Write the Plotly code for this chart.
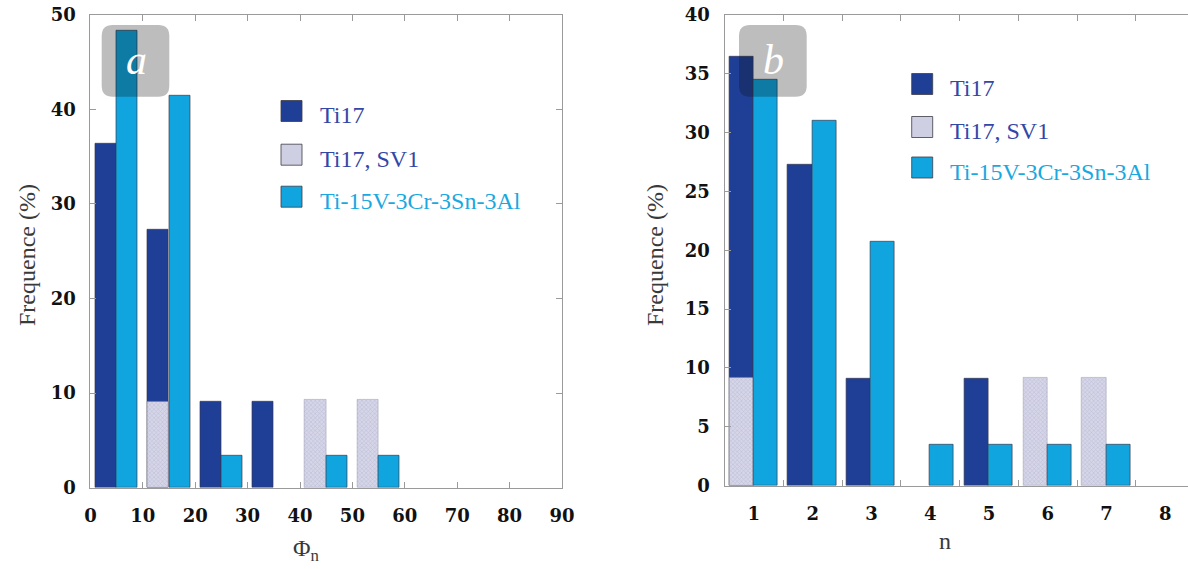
import plotly.graph_objects as go

W, H = 1188, 569

# ---------------- data ----------------
series_names = ["Ti17", "Ti17, SV1", "Ti-15V-3Cr-3Sn-3Al"]

phi_bins = [5, 15, 25, 35, 45, 55, 65, 75, 85]          # bin centres (Phi_n, width 10)
phi_ti17 = [36.4, 27.3, 9.1, 9.1, None, None, None, None, None]
phi_sv1 = [None, 9.1, None, None, 9.3, 9.3, None, None, None]
phi_ti15 = [48.3, 41.4, 3.4, None, 3.4, 3.4, None, None, None]

n_vals = [1, 2, 3, 4, 5, 6, 7, 8]
n_ti17 = [36.4, 27.3, 9.1, None, 9.1, None, None, None]
n_sv1 = [9.2, None, None, None, None, 9.2, 9.2, None]
n_ti15 = [34.5, 31.0, 20.7, 3.45, 3.45, 3.45, 3.45, None]

phi_ticks = [0, 10, 20, 30, 40, 50, 60, 70, 80, 90]
freq_ticks_a = [0, 10, 20, 30, 40, 50]
freq_ticks_b = [0, 5, 10, 15, 20, 25, 30, 35, 40]
n_boundaries = [1.5, 2.5, 3.5, 4.5, 5.5, 6.5, 7.5]

# ---------------- styles ----------------
C_TI17 = "#1f3f97"
C_TI15 = "#10a5de"
C_SV1_BG = "#d6d6e8"
C_SV1_FG = "#a4a4c6"
C_TXT_DARK = "#3347a6"
C_TXT_CYAN = "#19a8e0"
AX = "#9a9a9a"
OUTLINE = dict(color="rgba(55,55,75,0.85)", width=0.8)
TICKFONT = dict(family="DejaVu Serif", size=18, color="#111111", weight="bold")
SERIF = "Liberation Serif"


def px(x):
    return x / W


def py(y):
    return 1 - y / H


fig = go.Figure()


def add_panel(xa, ya, xs, ti17, sv1, ti15, off1, off2, w):
    fig.add_trace(go.Bar(x=xs, y=ti17, name=series_names[0], marker=dict(color=C_TI17, line=OUTLINE),
                         offset=off1, width=w, xaxis=xa, yaxis=ya, showlegend=False))
    fig.add_trace(go.Bar(x=xs, y=sv1, name=series_names[1],
                         marker=dict(color=C_SV1_BG, line=dict(color="rgba(120,120,150,0.6)", width=0.6),
                                     pattern=dict(shape="x", size=3, solidity=0.35,
                                                  fgcolor=C_SV1_FG, bgcolor=C_SV1_BG)),
                         offset=off1, width=w, xaxis=xa, yaxis=ya, showlegend=False))
    fig.add_trace(go.Bar(x=xs, y=ti15, name=series_names[2], marker=dict(color=C_TI15, line=OUTLINE),
                         offset=off2, width=w, xaxis=xa, yaxis=ya, showlegend=False))


add_panel("x", "y", phi_bins, phi_ti17, phi_sv1, phi_ti15, -4.1, 0.0, 4.05)
add_panel("x2", "y2", n_vals, n_ti17, n_sv1, n_ti15, -0.42, -0.01, 0.41)

axis_common = dict(showline=True, linecolor=AX, linewidth=1, showgrid=False, zeroline=False,
                   ticks="inside", ticklen=6, tickcolor=AX, tickwidth=1, tickfont=TICKFONT,
                   automargin=False, ticklabeloverflow="allow")

fig.update_layout(
    width=W, height=H, margin=dict(l=0, r=0, t=0, b=0, autoexpand=False),
    paper_bgcolor="white", plot_bgcolor="white", barmode="overlay", bargap=0,
    xaxis=dict(domain=[px(90.4), px(562)], range=[0, 90], tickvals=phi_ticks, mirror="ticks",
               ticklabelstandoff=12, anchor="y", **axis_common),
    yaxis=dict(domain=[py(487.7), py(14.7)], range=[0, 50], tickvals=freq_ticks_a, mirror="ticks",
               ticklabelstandoff=10, anchor="x", **axis_common),
    xaxis2=dict(domain=[px(724.5), 1.0], range=[0.5, 8.385], tickvals=n_vals, mirror="allticks",
                ticklabelstandoff=12, anchor="y2", automargin=False, ticklabeloverflow="allow",
                showline=True, linecolor=AX, linewidth=1, showgrid=False, zeroline=False,
                ticks="inside", ticklen=0, tickcolor=AX, tickfont=TICKFONT,
                minor=dict(tickvals=n_boundaries, ticks="inside", ticklen=6, tickcolor=AX, tickwidth=1,
                           showgrid=False)),
    yaxis2=dict(domain=[py(485.7), py(14.7)], range=[0, 40], tickvals=freq_ticks_b, mirror=False,
                ticklabelstandoff=10, anchor="x2", **axis_common),
)


# ---------------- panel labels (rounded translucent boxes) ----------------
def rounded_box(x0, y0, x1, y1, r):
    X0, X1 = px(x0), px(x1)
    Y0, Y1 = py(y0), py(y1)
    rx, ry = r / W, r / H
    return (f"M {X0 + rx},{Y0} L {X1 - rx},{Y0} Q {X1},{Y0} {X1},{Y0 - ry} "
            f"L {X1},{Y1 + ry} Q {X1},{Y1} {X1 - rx},{Y1} "
            f"L {X0 + rx},{Y1} Q {X0},{Y1} {X0},{Y1 + ry} "
            f"L {X0},{Y0 - ry} Q {X0},{Y0} {X0 + rx},{Y0} Z")


for (bx0, by0, bx1, by1, letter, lx, ly) in [(101.7, 25, 169.3, 96.7, "a", 136, 60),
                                            (739, 25, 806.7, 96.7, "b", 773, 60)]:
    fig.add_shape(type="path", path=rounded_box(bx0, by0, bx1, by1, 11), xref="paper", yref="paper",
                  fillcolor="rgba(10,10,10,0.27)", line=dict(width=0), layer="above")
    fig.add_annotation(x=px(lx), y=py(ly), xref="paper", yref="paper", text=f"<i>{letter}</i>",
                       showarrow=False, font=dict(family=SERIF, size=42, color="white"),
                       xanchor="center", yanchor="middle")

# ---------------- legends ----------------
legend_fill = [C_TI17, "#cfcfe3", C_TI15]
legend_txt = [C_TXT_DARK, C_TXT_DARK, C_TXT_CYAN]
for (sx, tx, ys) in [(281, 318, [111, 154.7, 196.7]), (911.7, 948, [84, 127, 167.5])]:
    for name, fc, tc, yc in zip(series_names, legend_fill, legend_txt, ys):
        fig.add_shape(type="rect", xref="paper", yref="paper",
                      x0=px(sx), x1=px(sx + 21), y0=py(yc - 10.5), y1=py(yc + 10.5),
                      fillcolor=fc, line=dict(color="rgba(60,60,70,0.8)", width=1))
        fig.add_annotation(x=px(tx), y=py(yc + 4), xref="paper", yref="paper", text=name,
                           showarrow=False, xanchor="left", yanchor="middle",
                           font=dict(family=SERIF, size=24, color=tc))

# ---------------- axis titles ----------------
for (xc, yc) in [(27, 255), (655, 255)]:
    fig.add_annotation(x=px(xc), y=py(yc), xref="paper", yref="paper", text="Frequence (%)",
                       textangle=-90, showarrow=False, xanchor="center", yanchor="middle",
                       font=dict(family=SERIF, size=24, color="#3a3a3a"))

fig.add_annotation(x=px(306), y=py(550), xref="paper", yref="paper", text="Φ<sub>n</sub>",
                   showarrow=False, xanchor="center", yanchor="middle",
                   font=dict(family=SERIF, size=24, color="#3a3a3a"))
fig.add_annotation(x=px(945), y=py(541), xref="paper", yref="paper", text="n",
                   showarrow=False, xanchor="center", yanchor="middle",
                   font=dict(family=SERIF, size=24, color="#3a3a3a"))

fig.write_html("out.html", config={"displayModeBar": False},
               post_script="document.body.style.margin='0';")
